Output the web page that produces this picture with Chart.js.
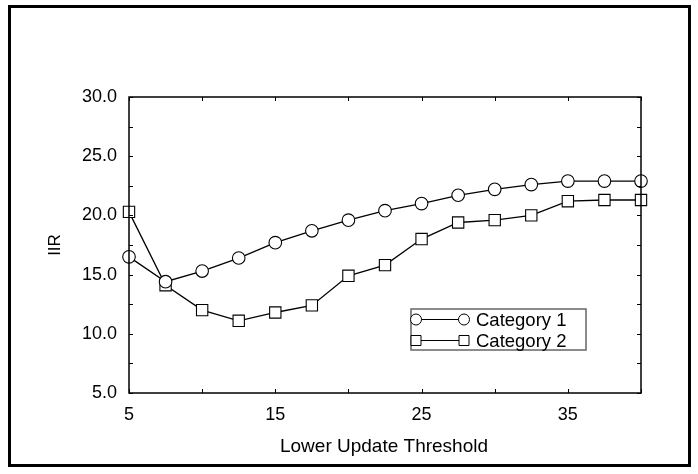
<!DOCTYPE html>
<html>
<head>
<meta charset="utf-8">
<script src="https://cdn.jsdelivr.net/npm/chart.js@4/dist/chart.umd.min.js"></script>
<style>
html,body{margin:0;padding:0;background:#fff;}
#wrap{width:698px;height:474px;position:relative;}
</style>
</head>
<body>
<div id="wrap"><canvas id="c" width="698" height="474"></canvas></div>
<script>
const xValues = [5, 7.5, 10, 12.5, 15, 17.5, 20, 22.5, 25, 27.5, 30, 32.5, 35, 37.5, 40];
const category1 = [16.5, 14.4, 15.3, 16.4, 17.7, 18.7, 19.6, 20.4, 21.0, 21.7, 22.2, 22.6, 22.9, 22.9, 22.9];
const category2 = [20.3, 14.1, 12.0, 11.1, 11.8, 12.4, 14.9, 15.8, 18.0, 19.4, 19.6, 20.0, 21.2, 21.3, 21.3];
const seriesNames = ['Category 1', 'Category 2'];
const xLabelTicks = [5, 15, 25, 35];
const xTitle = 'Lower Update Threshold';
const yTitle = 'IIR';

const FONT = '"Liberation Sans", Arial, Helvetica, sans-serif';

const framePlugin = {
  id: 'frame',
  beforeDraw(chart) {
    const ctx = chart.ctx;
    ctx.save();
    ctx.fillStyle = '#fff';
    ctx.fillRect(0, 0, chart.width, chart.height);
    ctx.strokeStyle = '#000';
    ctx.lineWidth = 3;
    ctx.strokeRect(9.5, 6.5, 680, 459);
    ctx.restore();
  },
  afterDatasetsDraw(chart) {
    const ctx = chart.ctx;
    const a = chart.chartArea;
    const xs = chart.scales.x, ys = chart.scales.y;
    ctx.save();
    ctx.strokeStyle = '#000';
    ctx.lineWidth = 1.5;
    ctx.strokeRect(a.left, a.top, a.right - a.left, a.bottom - a.top);
    ctx.lineWidth = 1;
    ctx.beginPath();
    for (let v = 5; v <= 40; v += 5) {
      const px = Math.round(xs.getPixelForValue(v)) + 0.5;
      ctx.moveTo(px, a.bottom); ctx.lineTo(px, a.bottom - 4);
      ctx.moveTo(px, a.top); ctx.lineTo(px, a.top + 4);
    }
    for (let v = 5; v <= 30; v += 2.5) {
      const py = Math.round(ys.getPixelForValue(v)) + 0.5;
      ctx.moveTo(a.left, py); ctx.lineTo(a.left + 4, py);
      ctx.moveTo(a.right, py); ctx.lineTo(a.right - 4, py);
    }
    ctx.stroke();

    // axis titles
    ctx.fillStyle = '#000';
    ctx.font = '19px ' + FONT;
    ctx.textAlign = 'center';
    ctx.textBaseline = 'middle';
    ctx.fillText(xTitle, (a.left + a.right) / 2 - 1, 447);
    ctx.save();
    ctx.translate(55, (a.top + a.bottom) / 2);
    ctx.rotate(-Math.PI / 2);
    ctx.font = '17px ' + FONT;
    ctx.fillText(yTitle, 0, 0);
    ctx.restore();

    // legend
    const lx = 411, ly = 309, lw = 175, lh = 41;
    ctx.strokeStyle = '#666';
    ctx.lineWidth = 1.5;
    ctx.fillStyle = '#fff';
    ctx.fillRect(lx, ly, lw, lh);
    ctx.strokeRect(lx, ly, lw, lh);
    const rows = [319.5, 340.5];
    ctx.strokeStyle = '#000';
    ctx.lineWidth = 1;
    rows.forEach((ry, i) => {
      ctx.beginPath();
      ctx.moveTo(416, ry); ctx.lineTo(464, ry);
      ctx.stroke();
      [416, 464].forEach(cx => {
        ctx.beginPath();
        if (i === 0) ctx.arc(cx, ry, 5.5, 0, Math.PI * 2);
        else ctx.rect(cx - 5, ry - 5, 10, 10);
        ctx.fillStyle = '#fff';
        ctx.fill();
        ctx.stroke();
      });
      ctx.fillStyle = '#000';
      ctx.textAlign = 'left';
      ctx.font = '18.5px ' + FONT;
      ctx.fillText(seriesNames[i], 476, ry + 1);
    });
    ctx.restore();
  }
};

new Chart(document.getElementById('c'), {
  type: 'line',
  data: {
    datasets: [
      {
        label: seriesNames[0],
        data: xValues.map((x, i) => ({x: x, y: category1[i]})),
        borderColor: '#000', borderWidth: 1.3,
        pointStyle: 'circle', pointRadius: 6.3,
        pointBackgroundColor: '#fff', pointBorderColor: '#000', pointBorderWidth: 1.1,
        tension: 0, clip: false
      },
      {
        label: seriesNames[1],
        data: xValues.map((x, i) => ({x: x, y: category2[i]})),
        borderColor: '#000', borderWidth: 1.3,
        pointStyle: 'rect', pointRadius: 8,
        pointBackgroundColor: '#fff', pointBorderColor: '#000', pointBorderWidth: 1.1,
        tension: 0, clip: false
      }
    ]
  },
  options: {
    responsive: false,
    animation: false,
    layout: { padding: { top: 97, right: 57, left: 0, bottom: 0 } },
    plugins: { legend: { display: false }, tooltip: { enabled: false } },
    scales: {
      x: {
        type: 'linear', min: 5, max: 40,
        grid: { display: false, drawTicks: false },
        border: { display: false },
        afterFit(s) { s.height = 81; },
        ticks: {
          stepSize: 5, autoSkip: false, maxRotation: 0, padding: 11,
          color: '#000', font: { family: FONT, size: 18 },
          callback: v => xLabelTicks.includes(v) ? String(v) : ''
        }
      },
      y: {
        type: 'linear', min: 5, max: 30,
        grid: { display: false, drawTicks: false },
        border: { display: false },
        afterFit(s) { s.width = 129; },
        ticks: {
          stepSize: 5, padding: 12,
          color: '#000', font: { family: FONT, size: 18 },
          callback: v => Number(v).toFixed(1)
        }
      }
    }
  },
  plugins: [framePlugin]
});
</script>
</body>
</html>
